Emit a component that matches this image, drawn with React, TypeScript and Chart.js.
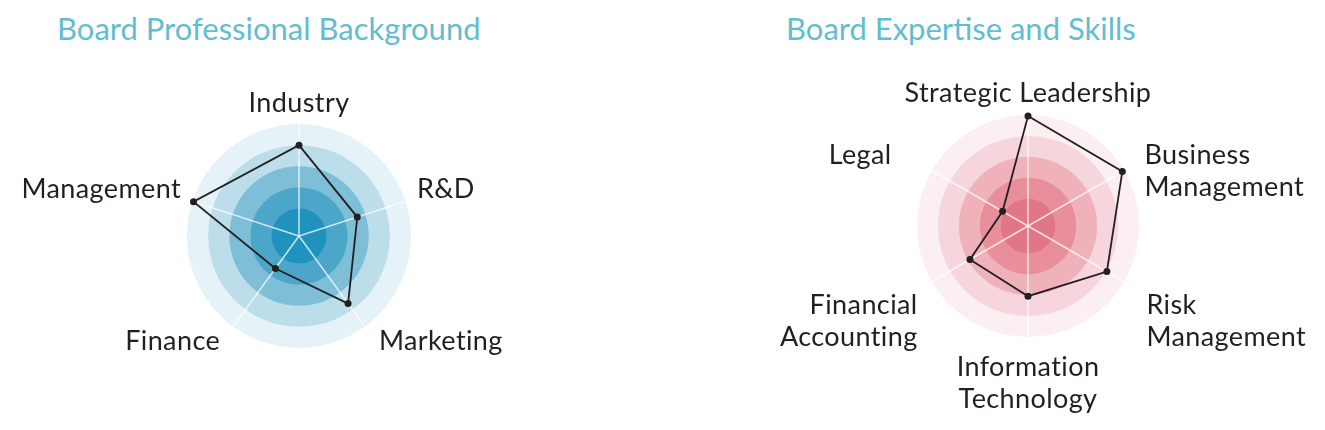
import { useEffect, useRef } from "react"
import { Chart, registerables, type ChartConfiguration, type Plugin } from "chart.js"

Chart.register(...registerables)

// Board Professional Background
const backgroundLabels = ["Industry", "R&D", "Marketing", "Finance", "Management"]
const backgroundValues = [4.0, 2.6, 3.65, 1.6, 4.95]

// Board Expertise and Skills
const skillLabels = [
  ["Strategic Leadership"],
  ["Business", "Management"],
  ["Risk", "Management"],
  ["Information", "Technology"],
  ["Financial", "Accounting"],
  ["Legal"],
]
const skillValues = [4.95, 4.9, 4.05, 3.05, 2.9, 1.1]

// concentric rings, outer to inner
const ringLevels = [5, 4, 3, 2, 1]
const scaleMin = -0.3
const scaleMax = 5

const blueRings = ["#e5f2f7", "#bcdeea", "#7ebed6", "#4ba6c9", "#1f93bd"]
const pinkRings = ["#fbeff2", "#f6d6dc", "#efb1ba", "#e88f9b", "#e17686"]

const FONT = "Lato, 'Noto Sans', sans-serif"
const INK = "#231f20"

const ringsPlugin: Plugin<"radar"> = {
  id: "rings",
  beforeDraw(chart, _args, opts: any) {
    const scale: any = chart.scales.r
    const ctx = chart.ctx
    ctx.save()
    opts.levels.forEach((level: number, i: number) => {
      ctx.beginPath()
      ctx.arc(scale.xCenter, scale.yCenter, scale.getDistanceFromCenterForValue(level), 0, Math.PI * 2)
      ctx.fillStyle = opts.colors[i]
      ctx.fill()
    })
    ctx.restore()
  },
}

// point labels drawn around the scale (baseline on the ray for upper ones)
const labelsPlugin: Plugin<"radar"> = {
  id: "axisLabels",
  afterDraw(chart, _args, opts: any) {
    const scale: any = chart.scales.r
    const ctx: any = chart.ctx
    const labels = chart.data.labels || []
    ctx.save()
    ctx.font = `${opts.size}px ${FONT}`
    ctx.fillStyle = INK
    ctx.textBaseline = "alphabetic"
    // no "ti" ligatures
    ctx.letterSpacing = "0.4px"
    ctx.textRendering = "optimizeSpeed"
    labels.forEach((label: any, i: number) => {
      const lines: string[] = Array.isArray(label) ? label : [label]
      const p = scale.getPointPosition(i, scale.drawingArea + opts.gap)
      const dx = p.x - scale.xCenter
      const dy = p.y - scale.yCenter
      ctx.textAlign = Math.abs(dx) < 1 ? "center" : dx > 0 ? "left" : "right"
      const x = p.x + (opts.nudgeX[i] || 0)
      let y = dy < -1 ? p.y : p.y + opts.drop
      lines.forEach((line) => {
        ctx.fillText(line, x, y)
        y += opts.lineHeight
      })
    })
    ctx.restore()
  },
}

interface RadarPanelProps {
  labels: (string | string[])[]
  values: number[]
  rings: string[]
  left: number
  width: number
  padding: { left: number; top: number; right: number; bottom: number }
  labelOpts: { gap: number; drop: number; nudgeX: number[] }
}

function RadarPanel({ labels, values, rings, left, width, padding, labelOpts }: RadarPanelProps) {
  const chartRef = useRef<HTMLCanvasElement>(null)
  const chartInstance = useRef<Chart | null>(null)

  useEffect(() => {
    if (!chartRef.current) return
    const ctx = chartRef.current.getContext("2d")
    if (!ctx) return

    if (chartInstance.current) {
      chartInstance.current.destroy()
    }

    const config: ChartConfiguration<"radar"> = {
      type: "radar",
      data: {
        labels,
        datasets: [
          {
            data: values,
            borderColor: INK,
            borderWidth: 1.8,
            backgroundColor: "transparent",
            fill: false,
            pointRadius: 3.5,
            pointBackgroundColor: INK,
            pointBorderColor: INK,
            pointBorderWidth: 0,
            clip: false,
          },
        ],
      },
      options: {
        responsive: true,
        maintainAspectRatio: false,
        animation: false,
        layout: { padding },
        scales: {
          r: {
            min: scaleMin,
            max: scaleMax,
            grid: { display: false },
            angleLines: { color: "rgba(255,255,255,0.75)", lineWidth: 1.5 },
            ticks: { display: false },
            pointLabels: { display: false },
          },
        },
        plugins: {
          legend: { display: false },
          tooltip: { enabled: false },
          // @ts-ignore
          rings: { levels: ringLevels, colors: rings },
          // @ts-ignore
          axisLabels: { size: 27, lineHeight: 32, ...labelOpts },
        },
      },
      plugins: [ringsPlugin, labelsPlugin],
    }

    chartInstance.current = new Chart(ctx, config)

    return () => {
      if (chartInstance.current) {
        chartInstance.current.destroy()
        chartInstance.current = null
      }
    }
  }, [labels, values, rings, padding, labelOpts])

  return (
    <div style={{ position: "absolute", left, top: 0, width, height: 430 }}>
      <canvas ref={chartRef} />
    </div>
  )
}

const titleStyle: React.CSSProperties = {
  position: "absolute",
  top: 10,
  fontFamily: FONT,
  fontSize: 31,
  lineHeight: 1.2,
  color: "#63bdd0",
  whiteSpace: "nowrap",
}

const leftPadding = { left: 187, top: 124, right: 251, bottom: 82 }
const rightPadding = { left: 255, top: 115, right: 186, bottom: 93 }
const leftLabelOpts = { gap: 12, drop: 14, nudgeX: [0, 0, 7, -6, 0] }
const rightLabelOpts = { gap: 13, drop: 26, nudgeX: [0, 9, 11, 0, -3, -29] }

export default function App() {
  return (
    <div style={{ position: "absolute", left: 0, top: 0, width: 1325, height: 430, background: "#fff", overflow: "hidden" }}>
      <div style={{ ...titleStyle, left: 57 }}>Board Professional Background</div>
      <div style={{ ...titleStyle, left: 786 }}>Board Expertise and Skills</div>
      <RadarPanel
        labels={backgroundLabels}
        values={backgroundValues}
        rings={blueRings}
        left={0}
        width={662}
        padding={leftPadding}
        labelOpts={leftLabelOpts}
      />
      <RadarPanel
        labels={skillLabels}
        values={skillValues}
        rings={pinkRings}
        left={662}
        width={663}
        padding={rightPadding}
        labelOpts={rightLabelOpts}
      />
    </div>
  )
}
